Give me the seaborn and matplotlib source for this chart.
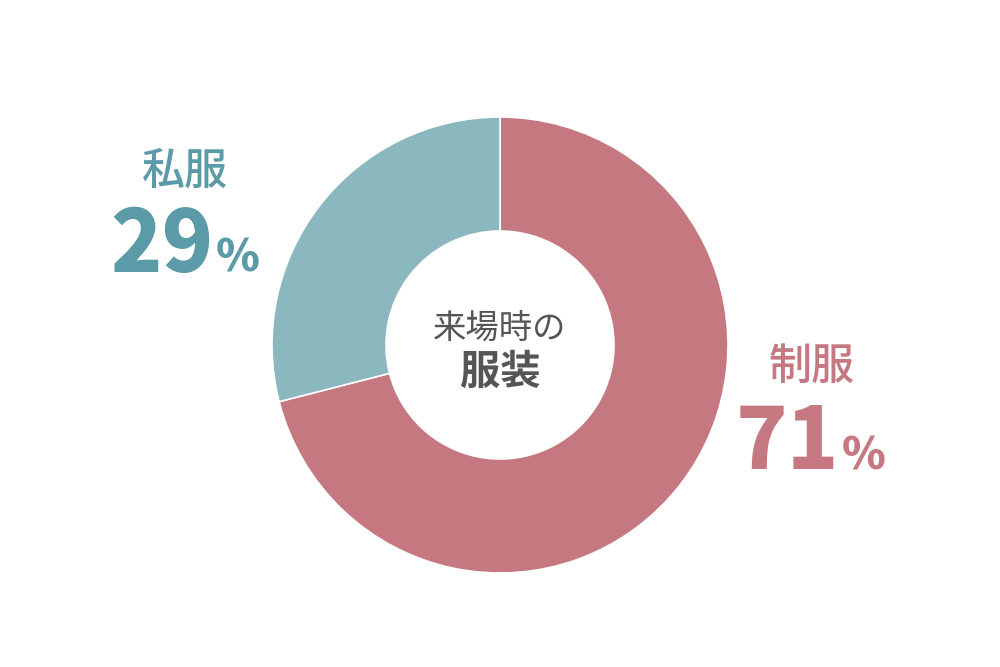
import matplotlib
matplotlib.use("Agg")
import matplotlib.pyplot as plt
import seaborn as sns

categories = ["制服", "私服"]
values = [71, 29]
value_labels = ["71", "29"]
center_line1 = "来場時の"
center_line2 = "服装"

sns.set_theme(style="white")
plt.rcParams['font.family'] = ['Noto Sans CJK JP', 'DejaVu Sans']

wedge_colors = ["#C57880", "#8BB7BF"]
text_colors = ["#C57880", "#5B9BA7"]

W, H = 1000, 667
fig = plt.figure(figsize=(10, 6.67), dpi=100)
fig.patch.set_facecolor("white")
ax = fig.add_axes([0, 0, 1, 1])
R = 228.0
cx, cy = 500, 345
ax.pie(values, startangle=90, counterclock=False, colors=wedge_colors,
       radius=1.0, wedgeprops=dict(width=0.5, edgecolor="white", linewidth=1.2))
ax.set_aspect('equal', adjustable='datalim')
ax.set_xlim(-cx / R, (W - cx) / R)
ax.set_ylim(-(H - cy) / R, cy / R)
ax.axis('off')

def fx(x): return x / W
def fy(y): return 1 - y / H

# center text
fig.text(fx(500), fy(328), center_line1, ha='center', va='center',
         fontsize=24, color="#555555")
fig.text(fx(500), fy(372), center_line2, ha='center', va='center',
         fontsize=29, color="#555555", fontweight='bold')

# 私服 label
fig.text(fx(185), fy(171), categories[1], ha='center', va='center',
         fontsize=31, color=text_colors[1], fontweight='medium')
fig.text(fx(214), fy(272), value_labels[1], ha='right', va='baseline',
         fontsize=61, color=text_colors[1], fontweight='heavy')
fig.text(fx(216), fy(272), "%", ha='left', va='baseline',
         fontsize=32, color=text_colors[1], fontweight='heavy')

# 制服 label
fig.text(fx(812), fy(366), categories[0], ha='center', va='center',
         fontsize=31, color=text_colors[0], fontweight='medium')
fig.text(fx(839), fy(469), value_labels[0], ha='right', va='baseline',
         fontsize=61, color=text_colors[0], fontweight='heavy')
fig.text(fx(842), fy(469), "%", ha='left', va='baseline',
         fontsize=32, color=text_colors[0], fontweight='heavy')

fig.savefig("out.png", dpi=100, facecolor="white")
